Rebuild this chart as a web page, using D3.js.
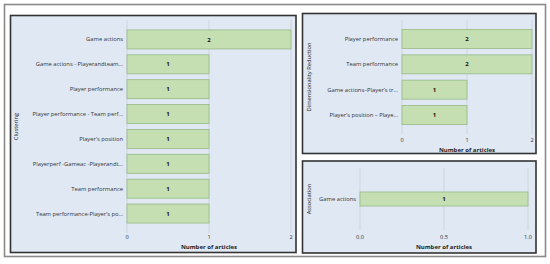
<!DOCTYPE html>
<html>
<head>
<meta charset="utf-8">
<script src="https://cdn.jsdelivr.net/npm/d3@7"></script>
<style>
  body { margin: 0; background: #fff; }
  text { font-family: 'Open Sans', sans-serif; }
</style>
</head>
<body>
<svg id="container"></svg>
<script>
// data
const clusterCats = [
  'Game actions',
  'Game actions - Playerandteam…',
  'Player performance',
  'Player performance - Team perf…',
  'Player’s position',
  'Playerperf -Gameac -Playerandt…',
  'Team performance',
  'Team performance-Player’s po…'
]
const clusterVals = [2, 1, 1, 1, 1, 1, 1, 1]
const clusterTicks = [0, 1, 2]

const dimCats = [
  'Player performance',
  'Team performance',
  'Game actions–Player’s tr…',
  'Player’s position – Playe…'
]
const dimVals = [2, 2, 1, 1]
const dimTicks = [0, 1, 2]

const assocCats = ['Game actions']
const assocVals = [1]
const assocTicks = [0, 0.5, 1]

const W = 550
const H = 264

const svg = d3.select('#container').attr('width', W).attr('height', H)

// outer frame
svg.append('rect')
  .attr('x', 4.5).attr('y', 4.5)
  .attr('width', 541).attr('height', 252)
  .attr('fill', '#fff')
  .attr('stroke', '#8a8a8a')
  .attr('stroke-width', 1.6)

function panel(opt) {
  const g = svg.append('g')

  // panel box
  g.append('rect')
    .attr('x', opt.box[0]).attr('y', opt.box[1])
    .attr('width', opt.box[2]).attr('height', opt.box[3])
    .attr('fill', '#dfe8f3')
    .attr('stroke', '#333')
    .attr('stroke-width', 1.6)

  const x = d3.scaleLinear().domain(opt.domain).range(opt.xr)
  const y = d3.scaleBand()
    .domain(opt.cats)
    .range(opt.yr)
    .paddingInner(opt.pi)
    .paddingOuter(opt.po)

  // grid
  g.append('g')
    .selectAll('line')
    .data(opt.ticks)
    .join('line')
    .attr('x1', d => x(d)).attr('x2', d => x(d))
    .attr('y1', opt.yr[0]).attr('y2', opt.yr[1])
    .attr('stroke', '#c9cfd8')
    .attr('stroke-width', 0.8)

  // bars
  const data = opt.cats.map((c, i) => ({ c, v: opt.vals[i] }))
  g.append('g')
    .selectAll('rect')
    .data(data)
    .join('rect')
    .attr('x', x(0))
    .attr('y', d => y(d.c))
    .attr('width', d => x(d.v) - x(0))
    .attr('height', y.bandwidth())
    .attr('fill', '#c5dfb3')
    .attr('stroke', '#97b985')
    .attr('stroke-width', 0.8)

  // value labels
  g.append('g')
    .selectAll('text')
    .data(data)
    .join('text')
    .attr('x', d => (x(0) + x(d.v)) / 2)
    .attr('y', d => y(d.c) + y.bandwidth() / 2)
    .attr('dy', '0.35em')
    .attr('text-anchor', 'middle')
    .attr('font-size', 6)
    .attr('font-weight', 'bold')
    .attr('fill', '#111')
    .text(d => d.v)

  // category labels
  g.append('g')
    .selectAll('text')
    .data(opt.cats)
    .join('text')
    .attr('x', x(0) - 4)
    .attr('y', d => y(d) + y.bandwidth() / 2)
    .attr('dy', '0.35em')
    .attr('text-anchor', 'end')
    .attr('font-size', 5.8)
    .attr('fill', '#333')
    .text(d => d)

  // x tick labels
  g.append('g')
    .selectAll('text')
    .data(opt.ticks)
    .join('text')
    .attr('x', d => x(d))
    .attr('y', opt.tickY)
    .attr('dy', '0.35em')
    .attr('text-anchor', 'middle')
    .attr('font-size', 5.6)
    .attr('fill', '#333')
    .text(d => d3.format(opt.fmt)(d))

  // x title
  g.append('text')
    .attr('x', (opt.xr[0] + opt.xr[1]) / 2)
    .attr('y', opt.tickY + 9.5)
    .attr('dy', '0.35em')
    .attr('text-anchor', 'middle')
    .attr('font-size', 6)
    .attr('font-weight', 'bold')
    .attr('fill', '#222')
    .text('Number of articles')

  // y title
  const cy = (opt.yr[0] + opt.yr[1]) / 2
  g.append('text')
    .attr('transform', `translate(${opt.titleX},${cy}) rotate(-90)`)
    .attr('dy', '0.35em')
    .attr('text-anchor', 'middle')
    .attr('font-size', 5.8)
    .attr('fill', '#222')
    .text(opt.title)
}

panel({
  box: [10.5, 15.5, 285.5, 237],
  cats: clusterCats, vals: clusterVals, ticks: clusterTicks,
  domain: [0, 2], xr: [127, 291], yr: [20, 233], pi: 0.236, po: 0.4,
  tickY: 237.5, fmt: 'd', title: 'Clustering', titleX: 16
})

panel({
  box: [302.5, 13.5, 233.5, 140],
  cats: dimCats, vals: dimVals, ticks: dimTicks,
  domain: [0, 2], xr: [402, 532], yr: [20, 134], pi: 0.25, po: 0.378,
  tickY: 140, fmt: 'd', title: 'Dimensionality Reduction', titleX: 309
})

panel({
  box: [302.5, 161, 233.5, 92],
  cats: assocCats, vals: assocVals, ticks: assocTicks,
  domain: [0, 1], xr: [360, 528], yr: [168, 230], pi: 0, po: 1.71,
  tickY: 237.5, fmt: '.1f', title: 'Association', titleX: 309
})
</script>
</body>
</html>
